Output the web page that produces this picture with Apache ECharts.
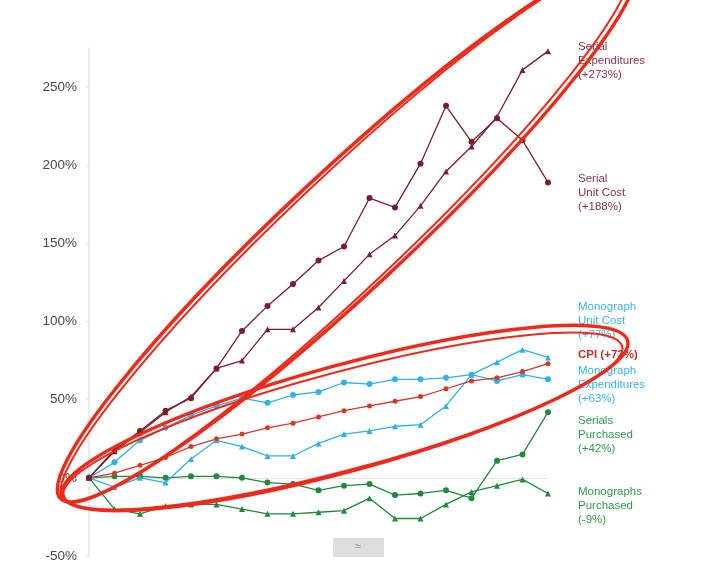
<!DOCTYPE html>
<html>
<head>
<meta charset="utf-8">
<script src="https://cdn.jsdelivr.net/npm/echarts@6/dist/echarts.min.js"></script>
<style>html,body{margin:0;padding:0;background:#fff;}#c{width:717px;height:563px;}</style>
</head>
<body>
<div id="c"></div>
<script>
// ---- data ----
var years = ['1986','1987','1988','1989','1990','1991','1992','1993','1994','1995','1996','1997','1998','1999','2000','2001','2002','2003','2004'];
var serialExpenditures = [0,17,29,42,52,70,75,95,95,109,126,143,155,174,196,212,231,261,273];
var serialUnitCost = [0,18,30,43,51,70,94,110,124,139,148,179,173,201,238,215,230,216,189];
var monographUnitCost = [0,-6,0,-3,12,24,20,14,14,22,28,30,33,34,46,66,74,82,77];
var cpi = [0,3,8,13,20,25,28,32,35,39,43,46,49,52,57,62,64,68,73];
var monographExpenditures = [0,10,24,32,40,46,51,48,53,55,61,60,63,63,64,66,62,66,63];
var serialsPurchased = [0,1,1,0,1,1,0,-3,-4,-8,-5,-4,-11,-10,-8,-13,11,15,42];
var monographsPurchased = [0,-20,-23,-18,-17,-17,-20,-23,-23,-22,-21,-13,-26,-26,-17,-9,-5,-1,-10];
var yTicks = [-50,0,50,100,150,200,250];

var labels = [
  {lines:['Serial','Expenditures','(+273%)'], color:'#8a3344', top:40},
  {lines:['Serial','Unit Cost','(+188%)'], color:'#8a3344', top:172},
  {lines:['Monograph','Unit Cost','(+77%)'], color:'#3ab4e4', top:300},
  {lines:['CPI (+73%)'], color:'#c92f2a', top:348, bold:true},
  {lines:['Monograph','Expenditures','(+63%)'], color:'#3ab4e4', top:364},
  {lines:['Serials','Purchased','(+42%)'], color:'#2f9a4c', top:414},
  {lines:['Monographs','Purchased','(-9%)'], color:'#2f9a4c', top:485}
];

var MAROON = '#7a1e2e', CYAN = '#2fb2e8', RED = '#d8382c', GREEN = '#1f8a3d';

function mk(name, data, color, symbol, size){
  return {name:name, type:'line', data:data, symbol:symbol, symbolSize:size||6,
    lineStyle:{color:color, width:1.3}, itemStyle:{color:color}, z:3, animation:false};
}

var chart = echarts.init(document.getElementById('c'), null, {renderer:'canvas'});

var graphics = [];
labels.forEach(function(l){
  graphics.push({type:'text', left:578, top:l.top, z:50,
    style:{text:l.lines.join('\n'), fill:l.color, font:(l.bold?'bold ':'')+'11.5px "Liberation Sans", Arial, sans-serif', lineHeight:14}});
});
// hand-drawn red ellipses (annotation)
function ell(cx,cy,rx,ry,deg,w){
  return {type:'ellipse', x:cx, y:cy, rotation:deg*Math.PI/180, z:60, silent:true,
    shape:{cx:0,cy:0,rx:rx,ry:ry}, style:{fill:null, stroke:'#ee2a1a', lineWidth:w}};
}
graphics.push(ell(347,231,392,60,43,3.5));
graphics.push(ell(345,233,388,56,43.4,2));
graphics.push(ell(345,418,293,53,15.3,3.5));
graphics.push(ell(343,421,289,49,15,2));
// grey overlay button
graphics.push({type:'rect', shape:{x:333,y:538,width:51,height:19}, style:{fill:'#dedede'}, z:70});
graphics.push({type:'text', x:358, y:547, z:71, style:{text:'≈', fill:'#999', font:'12px sans-serif', align:'center', verticalAlign:'middle'}});

chart.setOption({
  backgroundColor:'#ffffff',
  animation:false,
  grid:{left:89, right:169, top:48, bottom:3, containLabel:false},
  xAxis:{type:'category', data:years, boundaryGap:false,
    axisLine:{onZero:true, lineStyle:{color:'#e2e2e2', width:1}},
    axisTick:{show:false}, axisLabel:{show:false}, splitLine:{show:false}},
  yAxis:{type:'value', min:-50, max:275, interval:50,
    axisLine:{show:true, lineStyle:{color:'#e4e4e4', width:1.5}},
    axisTick:{show:true, length:3, lineStyle:{color:'#e0e0e0'}},
    splitLine:{show:false},
    axisLabel:{margin:12, color:'#4a4a4a', fontSize:13.5, fontFamily:'"Liberation Sans", Arial, sans-serif',
      showMaxLabel:false,
      formatter:function(v){ return yTicks.indexOf(v) >= 0 ? v + '%' : ''; }}},
  series:[
    mk('Monographs Purchased', monographsPurchased, GREEN, 'triangle', 6),
    mk('Serials Purchased', serialsPurchased, GREEN, 'circle', 6),
    mk('Monograph Expenditures', monographExpenditures, CYAN, 'circle', 6),
    mk('Monograph Unit Cost', monographUnitCost, CYAN, 'triangle', 6),
    mk('CPI', cpi, RED, 'circle', 5),
    mk('Serial Expenditures', serialExpenditures, MAROON, 'triangle', 6),
    mk('Serial Unit Cost', serialUnitCost, MAROON, 'circle', 6)
  ],
  graphic:graphics
});
</script>
</body>
</html>
